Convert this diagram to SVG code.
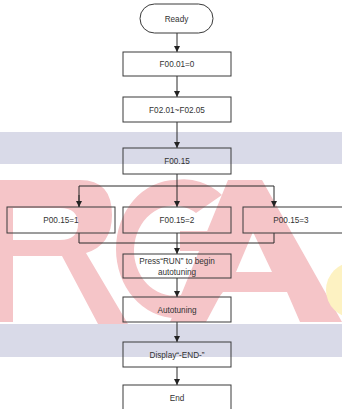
<svg xmlns="http://www.w3.org/2000/svg" width="342" height="409" viewBox="0 0 342 409">
<defs>
<style>
.box{fill:none;stroke:#3a3a3a;stroke-width:1}
.lbl{font-family:"Liberation Sans",Arial,sans-serif;font-size:8.2px;fill:#333;text-anchor:middle}
.conn{fill:none;stroke:#2a2a2a;stroke-width:1}
.band{fill:#d9dae8}
.wm{fill:#f5c5c8;fill-rule:evenodd}
</style>
<marker id="arr" viewBox="0 0 8 8" refX="8" refY="4" markerWidth="6" markerHeight="6" markerUnits="userSpaceOnUse" orient="auto">
<path d="M0,0 L8,4 L0,8 Z" fill="#222"/>
</marker>
</defs>
<rect width="342" height="409" fill="#ffffff"/>
<g id="watermark">
<rect class="band" x="0" y="132" width="342" height="32"/>
<rect class="band" x="0" y="324" width="342" height="33"/>
<path class="wm" d="M-5,180 H80 Q112,180 112,215 Q112,245 86,253 L128,324 H98 L62,256 H13 V322 H-5 Z M13,208 H60 Q78,208 78,224 Q78,240 60,240 H13 Z"/>
<path class="wm" d="M176,180 A60,69 0 1 0 236,249 L236,231 L180,231 L180,251 L214,251 A40,45 0 1 1 196,213 L222,195 A60,69 0 0 0 176,180 Z"/>
<path class="wm" d="M228,180 H262 L342,322 H300 L287,292 H222 L206,322 H170 Z M253,232 L272,272 H236 Z"/>
<circle cx="354" cy="290" r="28" fill="#fdf2c2"/>
</g>
<g id="connectors">
<line class="conn" x1="177" y1="33" x2="177" y2="52" marker-end="url(#arr)"/>
<line class="conn" x1="177" y1="76" x2="177" y2="97" marker-end="url(#arr)"/>
<line class="conn" x1="177" y1="122" x2="177" y2="148" marker-end="url(#arr)"/>
<line class="conn" x1="177" y1="174" x2="177" y2="207" marker-end="url(#arr)"/>
<polyline class="conn" points="79,207 79,186 274,186 274,207" marker-end="url(#arr)"/>
<line class="conn" x1="79" y1="195" x2="79" y2="207" marker-end="url(#arr)"/>
<polyline class="conn" points="79,233 79,243 274,243 274,233"/>
<line class="conn" x1="177" y1="233" x2="177" y2="254" marker-end="url(#arr)"/>
<line class="conn" x1="177" y1="278" x2="177" y2="297" marker-end="url(#arr)"/>
<line class="conn" x1="177" y1="322" x2="177" y2="342" marker-end="url(#arr)"/>
<line class="conn" x1="177" y1="367" x2="177" y2="385" marker-end="url(#arr)"/>
</g>
<g id="ready">
<rect class="box" x="140" y="4" width="73" height="29" rx="14.5" ry="14.5"/>
<text class="lbl" x="176.5" y="21.5">Ready</text>
</g>
<g id="f0001">
<rect class="box" x="123" y="52" width="108" height="24"/>
<text class="lbl" x="177" y="67">F00.01=0</text>
</g>
<g id="f0201">
<rect class="box" x="123" y="97" width="108" height="25"/>
<text class="lbl" x="177" y="112.5">F02.01~F02.05</text>
</g>
<g id="f0015">
<rect class="box" x="123" y="148" width="108" height="26"/>
<text class="lbl" x="177" y="164">F00.15</text>
</g>
<g id="opt1">
<rect class="box" x="7" y="207" width="108" height="26"/>
<text class="lbl" x="61" y="223">P00.15=1</text>
</g>
<g id="opt2">
<rect class="box" x="123" y="207" width="108" height="26"/>
<text class="lbl" x="177" y="223">F00.15=2</text>
</g>
<g id="opt3">
<rect class="box" x="243" y="207" width="108" height="26"/>
<text class="lbl" x="291" y="223">P00.15=3</text>
</g>
<g id="press">
<rect class="box" x="123" y="254" width="108" height="24"/>
<text class="lbl" x="177" y="264">Press“RUN” to begin</text>
<text class="lbl" x="177" y="274.5">autotuning</text>
</g>
<g id="autotuning">
<rect class="box" x="123" y="297" width="108" height="25"/>
<text class="lbl" x="177" y="312.5">Autotuning</text>
</g>
<g id="display">
<rect class="box" x="123" y="342" width="108" height="25"/>
<text class="lbl" x="177" y="357.5">Display“-END-”</text>
</g>
<g id="end">
<rect class="box" x="123" y="385" width="108" height="26"/>
<text class="lbl" x="177" y="401">End</text>
</g>
</svg>
